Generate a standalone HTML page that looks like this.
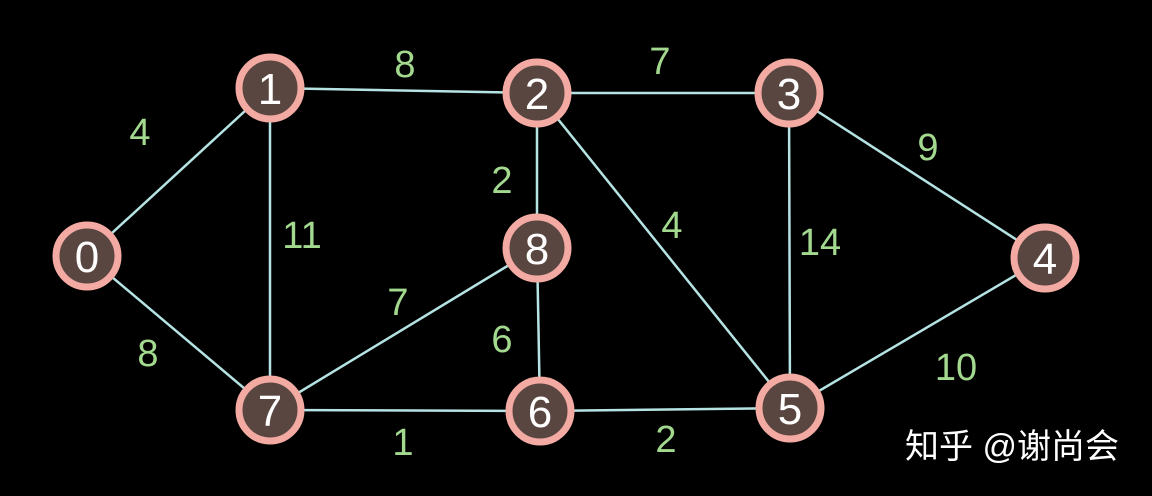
<!DOCTYPE html>
<html><head><meta charset="utf-8"><style>body{margin:0;background:#000}svg{display:block}</style></head><body>
<svg width="1152" height="496" viewBox="0 0 1152 496" xmlns="http://www.w3.org/2000/svg">
<rect width="1152" height="496" fill="#000"/>
<g stroke="#b5e3e3" stroke-width="2.5">
<line x1="87" y1="256" x2="270" y2="88"/>
<line x1="87" y1="256" x2="270" y2="410"/>
<line x1="270" y1="88" x2="537" y2="93"/>
<line x1="270" y1="88" x2="270" y2="410"/>
<line x1="537" y1="93" x2="789" y2="93"/>
<line x1="537" y1="93" x2="537" y2="248"/>
<line x1="537" y1="93" x2="790" y2="408"/>
<line x1="789" y1="93" x2="1045" y2="258"/>
<line x1="789" y1="93" x2="790" y2="408"/>
<line x1="1045" y1="258" x2="790" y2="408"/>
<line x1="537" y1="248" x2="270" y2="410"/>
<line x1="537" y1="248" x2="540" y2="411"/>
<line x1="270" y1="410" x2="540" y2="411"/>
<line x1="540" y1="411" x2="790" y2="408"/>
</g>
<g fill="#a3d98f" font-family="Liberation Sans, sans-serif" font-size="38" text-anchor="middle">
<text x="140" y="145">4</text>
<text x="148" y="366">8</text>
<text x="405" y="77">8</text>
<text x="302" y="248">11</text>
<text x="660" y="74">7</text>
<text x="502" y="193">2</text>
<text x="672" y="238">4</text>
<text x="928" y="160">9</text>
<text x="820" y="255">14</text>
<text x="956" y="380">10</text>
<text x="398" y="315">7</text>
<text x="502" y="352">6</text>
<text x="403" y="455">1</text>
<text x="666" y="452">2</text>
</g>
<g stroke="#f2aaa2" stroke-width="7" fill="#5a4641">
<circle cx="87" cy="256" r="31"/>
<circle cx="270" cy="88" r="31"/>
<circle cx="537" cy="93" r="31"/>
<circle cx="789" cy="93" r="31"/>
<circle cx="1045" cy="258" r="31"/>
<circle cx="790" cy="408" r="31"/>
<circle cx="540" cy="411" r="31"/>
<circle cx="270" cy="410" r="31"/>
<circle cx="537" cy="248" r="31"/>
</g>
<g fill="#fff" font-family="Liberation Sans, sans-serif" font-size="44" text-anchor="middle">
<text x="87" y="272">0</text>
<text x="270" y="104">1</text>
<text x="537" y="109">2</text>
<text x="789" y="109">3</text>
<text x="1045" y="274">4</text>
<text x="790" y="424">5</text>
<text x="540" y="427">6</text>
<text x="270" y="426">7</text>
<text x="537" y="264">8</text>
</g>
<text x="1012" y="458" fill="#fff" font-family="Liberation Sans, 'Noto Sans CJK SC', sans-serif" font-size="34" text-anchor="middle">知乎 @谢尚会</text>
</svg>
</body></html>
